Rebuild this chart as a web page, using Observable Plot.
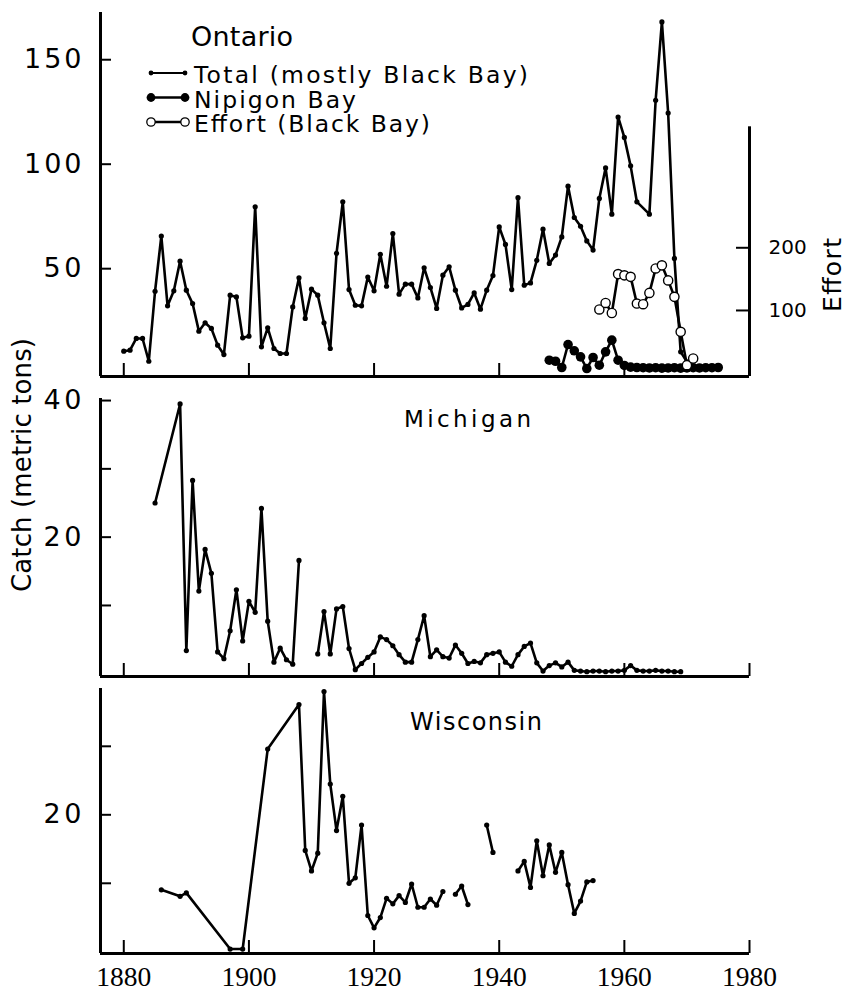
<!DOCTYPE html>
<html><head><meta charset="utf-8">
<script src="https://cdn.jsdelivr.net/npm/d3@7"></script>
<script src="https://cdn.jsdelivr.net/npm/@observablehq/plot@0.6"></script>
<style>
body{margin:0;background:#fff;}
#wrap{position:relative;width:848px;height:991px;overflow:hidden;background:#fff;}
</style></head><body><div id="wrap"></div>
<script>
// ---------------- data ----------------
const xTicks = [1880, 1900, 1920, 1940, 1960, 1980];

// Ontario total catch (mostly Black Bay), metric tons
const totalYears = [1880,1881,1882,1883,1884,1885,1886,1887,1888,1889,
 1890,1891,1892,1893,1894,1895,1896,1897,1898,1899,
 1900,1901,1902,1903,1904,1905,1906,1907,1908,1909,
 1910,1911,1912,1913,1914,1915,1916,1917,1918,1919,
 1920,1921,1922,1923,1924,1925,1926,1927,1928,1929,
 1930,1931,1932,1933,1934,1935,1936,1937,1938,1939,
 1940,1941,1942,1943,1944,1945,1946,1947,1948,1949,
 1950,1951,1952,1953,1954,1955,1956,1957,1958,1959,
 1960,1961,1962,1964,1965,1966,1967,1968,1969,1970];
const totalCatch = [10.5,11.0,16.6,16.6,5.7,39.2,65.6,32.2,39.4,53.6,
 39.7,33.3,20.1,24.1,21.4,13.4,8.9,37.3,36.5,16.9,
 17.7,79.6,12.6,21.7,11.8,9.4,9.4,31.7,45.6,26.2,
 40.2,37.3,24.1,11.8,57.3,82,40,32.5,32.2,46,
 39.4,56.9,41.6,66.8,37.8,42.6,42.6,36,50.4,41,
 31,46.9,50.9,39.7,31.2,32.9,38.4,30.6,39.7,46.7,
 70,61.6,40,84,42.1,43.2,54,68.9,52.5,56.5,
 65.2,89.5,74.5,70.3,63.3,58.9,83.6,98.2,76.1,122.6,
 112.8,99.2,82,76.1,130.6,168.1,124.5,54.9,10.2,5.4];

// Ontario, Nipigon Bay catch
const nipigonYears = [1948,1949,1950,1951,1952,1953,1954,1955,1956,1957,1958,1959,1960,1961,
 1962,1963,1964,1965,1966,1967,1968,1969,1970,1971,1972,1973,1974,1975];
const nipigonCatch = [6.2,5.7,2.7,13.7,10.7,7.8,2.2,7.5,3.8,10.2,15.8,6.2,3.7,2.9,
 2.7,2.6,2.5,2.6,2.4,2.5,2.6,2.4,2.5,2.6,2.5,2.6,2.6,2.7];

// Ontario, effort (Black Bay) on the right axis
const effortYears = [1956,1957,1958,1959,1960,1961,1962,1963,1964,1965,1966,1967,1968,1969,1970,1971];
const effortValues = [101.6,112,96,158,156,153.6,111,110,128,167,172,148,121.7,66,12.8,23.4];
const effortTicks = [100, 200];
const effortAxisTop = 393;
const effortPerCatch = 0.3; // 1 effort unit is drawn as 0.3 catch units (dual axis)

// Michigan catch (null = no record)
const michiganYears = [1885,1889,1890,1891,1892,1893,1894,1895,1896,1897,1898,1899,
 1900,1901,1902,1903,1904,1905,1906,1907,1908,1909,
 1911,1912,1913,1914,1915,1916,1917,1918,1919,
 1920,1921,1922,1923,1924,1925,1926,1927,1928,1929,
 1930,1931,1932,1933,1934,1935,1936,1937,1938,1939,
 1940,1941,1942,1943,1944,1945,1946,1947,1948,1949,
 1950,1951,1952,1953,1954,1955,1956,1957,1958,1959,
 1960,1961,1962,1963,1964,1965,1966,1967,1968,1969];
const michiganCatch = [25.0,39.5,3.4,28.3,12.1,18.2,14.7,3.2,2.2,6.3,12.3,4.8,
 10.6,9.0,24.2,7.7,1.7,3.75,2.05,1.4,16.6,null,
 2.9,9.1,2.9,9.5,9.85,3.7,0.6,1.5,2.4,
 3.2,5.4,5.0,4.1,2.8,1.7,1.7,5.0,8.5,2.5,
 3.5,2.5,2.3,4.2,3.0,1.5,1.8,1.6,2.8,3.0,
 3.2,1.7,1.1,2.8,4.0,4.5,1.6,0.4,1.2,1.6,
 1.0,1.7,0.5,0.4,0.3,0.4,0.4,0.3,0.4,0.4,
 0.5,1.2,0.5,0.4,0.4,0.5,0.4,0.4,0.3,0.3];

// Wisconsin catch (null = no record)
const wisconsinYears = [1886,1889,1890,1897,1899,1903,1908,1909,
 1910,1911,1912,1913,1914,1915,1916,1917,1918,1919,
 1920,1921,1922,1923,1924,1925,1926,1927,1928,1929,
 1930,1931,1932,1933,1934,1935,1936,1938,1939,1940,
 1943,1944,1945,1946,1947,1948,1949,1950,1951,1952,1953,1954,1955];
const wisconsinCatch = [9.05,8.1,8.6,0.4,0.4,29.6,36.1,14.8,
 11.8,14.4,38.0,24.5,17.7,22.7,10.0,10.8,18.5,5.3,
 3.5,5.0,7.8,7.0,8.2,7.2,9.9,6.5,6.5,7.7,
 6.8,8.8,null,8.4,9.6,6.9,null,18.5,14.5,null,
 11.8,13.2,9.4,16.2,11.1,15.6,11.6,14.5,9.8,5.6,7.4,10.2,10.4];

// axis ticks
const ontarioTicks = [50, 100, 150], ontarioLabeled = [50, 100, 150];
const michiganTicks = [10, 20, 30, 40], michiganLabeled = [20, 40];
const wisconsinTicks = [10, 20, 30], wisconsinLabeled = [20];

// ---------------- drawing ----------------
const W = 848, ML = 100, MR = 99;
const X_DOMAIN = [1876.28, 1980];
const SANS = "'DejaVu Sans', Verdana, sans-serif";
const SERIF = "'Liberation Serif', 'Times New Roman', serif";
const wrap = document.getElementById("wrap");
const xPerPx = (X_DOMAIN[1] - X_DOMAIN[0]) / (W - ML - MR);

const rows = (ys, vs) => ys.map((year, i) => ({year, value: vs[i]}));
const total = rows(totalYears, totalCatch);
const nipigon = rows(nipigonYears, nipigonCatch);
const effort = rows(effortYears, effortValues);
const michigan = rows(michiganYears, michiganCatch);
const wisconsin = rows(wisconsinYears, wisconsinCatch);

// axis frame + inward tick marks + tick labels for one panel
function axes(yDomain, plotH, ticks, labeled, withXLabels) {
  const yPerPx = (yDomain[1] - yDomain[0]) / plotH;
  const marks = [
    Plot.ruleX([X_DOMAIN[0]], {y1: yDomain[0], y2: yDomain[1], strokeWidth: 3}),
    Plot.ruleY([yDomain[0]], {strokeWidth: 3}),
    Plot.ruleX(xTicks, {y1: yDomain[0], y2: yDomain[0] + 13 * yPerPx, strokeWidth: 2}),
    Plot.ruleY(ticks, {x1: X_DOMAIN[0], x2: X_DOMAIN[0] + 11 * xPerPx, strokeWidth: 2}),
    Plot.axisY({ticks: labeled, anchor: "left", tickSize: 0, tickPadding: 19,
      tickFormat: d => String(d), fontFamily: SANS, fontSize: 27, label: null})
  ];
  if (withXLabels) marks.push(Plot.axisX({ticks: xTicks, anchor: "bottom", tickSize: 0, tickPadding: 13,
    tickFormat: d => String(d), fontFamily: SERIF, fontSize: 27.5, label: null}));
  return marks;
}
function series(data, r) {
  return [
    Plot.line(data, {x: "year", y: "value", strokeWidth: 2.6, stroke: "black"}),
    Plot.dot(data, {x: "year", y: "value", r, fill: "black", stroke: "none"})
  ];
}
function place(svg, top) {
  svg.style.position = "absolute";
  svg.style.left = "0px";
  svg.style.top = top + "px";
  svg.style.background = "transparent";
  svg.style.overflow = "visible";
  svg.style.maxWidth = "none";
  // widen the tick labels slightly, like the reference's spaced digits
  d3.select(svg).selectAll('g[aria-label="y-axis tick label"] text')
    .attr("textLength", function() { return this.textContent.length * 19.5 - 1; })
    .attr("lengthAdjust", "spacing");
  wrap.appendChild(svg);
}

// Ontario
const ontDomain = [-1.6, 172.6];
const ontH = 390 - 12 - 14;
place(Plot.plot({
  width: W, height: 390, marginLeft: ML, marginRight: MR, marginTop: 12, marginBottom: 14,
  x: {domain: X_DOMAIN, axis: null}, y: {domain: ontDomain},
  marks: [
    ...axes(ontDomain, ontH, ontarioTicks, ontarioLabeled, false),
    Plot.ruleX([X_DOMAIN[1]], {y1: ontDomain[0], y2: effortAxisTop * effortPerCatch, strokeWidth: 3}),
    Plot.ruleY(effortTicks.map(e => e * effortPerCatch), {x1: X_DOMAIN[1] - 13 * xPerPx, x2: X_DOMAIN[1], strokeWidth: 2}),
    Plot.text(effortTicks, {x: X_DOMAIN[1], y: d => d * effortPerCatch, text: d => String(d), dx: 19,
      textAnchor: "start", fontFamily: SANS, fontSize: 20}),
    ...series(total, 2.6),
    ...series(nipigon, 4.8),
    Plot.line(effort, {x: "year", y: d => d.value * effortPerCatch, strokeWidth: 2.6, stroke: "black"}),
    Plot.dot(effort, {x: "year", y: d => d.value * effortPerCatch, r: 4.6, fill: "white", stroke: "black", strokeWidth: 1.4})
  ]
}), 0);

// Michigan
const micDomain = [-0.4, 40.3];
place(Plot.plot({
  width: W, height: 305, marginLeft: ML, marginRight: MR, marginTop: 18, marginBottom: 9,
  x: {domain: X_DOMAIN, axis: null}, y: {domain: micDomain},
  marks: [
    ...axes(micDomain, 305 - 18 - 9, michiganTicks, michiganLabeled, false),
    ...series(michigan, 2.6)
  ]
}), 380);

// Wisconsin
const wisDomain = [-0.25, 38.44];
place(Plot.plot({
  width: W, height: 311, marginLeft: ML, marginRight: MR, marginTop: 8, marginBottom: 38,
  x: {domain: X_DOMAIN}, y: {domain: wisDomain},
  marks: [
    ...axes(wisDomain, 311 - 8 - 38, wisconsinTicks, wisconsinLabeled, true),
    ...series(wisconsin, 2.6)
  ]
}), 680);

// ---------------- text overlay (titles, legend, axis titles) ----------------
const ov = d3.select(wrap).append("svg")
  .attr("width", W).attr("height", 991)
  .style("position", "absolute").style("left", "0px").style("top", "0px")
  .style("pointer-events", "none")
  .attr("font-family", SANS).attr("fill", "black");

function label(txt, x, y, size, len, rotate) {
  const t = ov.append("text").text(txt).attr("font-size", size);
  if (rotate) {
    t.attr("text-anchor", "middle").attr("transform", `translate(${x},${y}) rotate(-90)`);
  } else {
    t.attr("x", x).attr("y", y);
  }
  if (len) t.attr("textLength", len).attr("lengthAdjust", "spacing");
  return t;
}
label("Ontario", 191, 46, 27, 102);
label("Michigan", 404, 427, 23, 127);
label("Wisconsin", 410, 730, 24, 132);
label("Catch (metric tons)", 31, 465, 26, 254, true);
label("Effort", 841, 275, 25, 74, true);

// legend
const legend = [
  {text: "Total (mostly Black Bay)", y: 83, len: 334, kind: "total"},
  {text: "Nipigon Bay", y: 107.5, len: 162, kind: "nipigon"},
  {text: "Effort (Black Bay)", y: 132, len: 236, kind: "effort"}
];
legend.forEach(l => {
  const cy = l.y - 10;
  ov.append("line").attr("x1", 151).attr("x2", 185).attr("y1", cy).attr("y2", cy)
    .attr("stroke", "black").attr("stroke-width", l.kind === "total" ? 2 : 2.6);
  [151, 185].forEach(cx => {
    const c = ov.append("circle").attr("cx", cx).attr("cy", cy);
    if (l.kind === "total") c.attr("r", 2.4).attr("fill", "black");
    else if (l.kind === "nipigon") c.attr("r", 4.4).attr("fill", "black");
    else c.attr("r", 4.2).attr("fill", "white").attr("stroke", "black").attr("stroke-width", 1.3);
  });
  label(l.text, 194, l.y, 23.5, l.len);
});
</script>
</body></html>
